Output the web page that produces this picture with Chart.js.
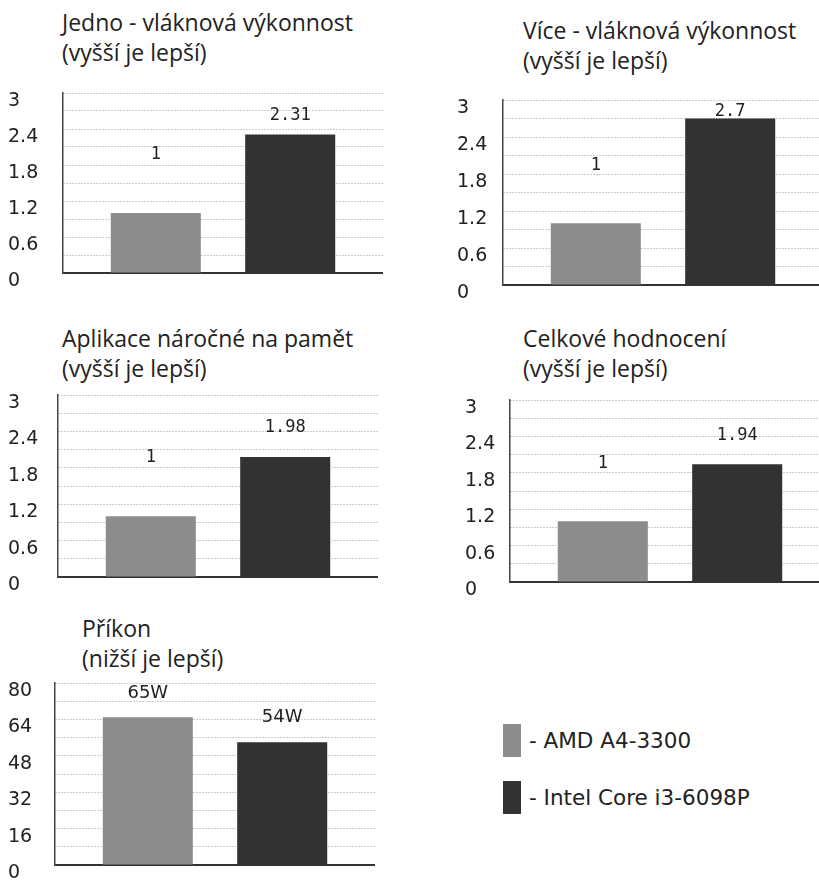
<!DOCTYPE html>
<html>
<head>
<meta charset="utf-8">
<script src="https://cdn.jsdelivr.net/npm/chart.js@4.4.0/dist/chart.umd.min.js"></script>
<style>
  html, body { margin: 0; padding: 0; background: #fff; }
  body { width: 819px; height: 882px; position: relative; overflow: hidden; }
  canvas { position: absolute; }
  .title { position: absolute; font-family: "Open Sans", sans-serif; font-size: 23px; line-height: 30px; color: #222; white-space: nowrap; }
  .legend-item { position: absolute; left: 503px; display: flex; align-items: center; font-family: "DejaVu Sans", sans-serif; font-size: 21.5px; color: #222; }
  .legend-box { width: 18px; height: 33px; margin-right: 8px; }
</style>
</head>
<body>
<script>
// Hodnoty z grafu
const series = ['AMD A4-3300', 'Intel Core i3-6098P'];
const seriesColors = ['#8c8c8c', '#323232'];

const singleThread = [1, 2.31];
const multiThread = [1, 2.7];
const memoryApps = [1, 1.98];
const overall = [1, 1.94];
const power = [65, 54];

const scoreTicks = [0, 0.6, 1.2, 1.8, 2.4, 3];
const powerTicks = [0, 16, 32, 48, 64, 80];

// Nastaveni jednotlivych grafu (pozice, titulky)
const panels = [
  { title: ['Jedno - vláknová výkonnost', '(vyšší je lepší)'], data: singleThread, ticks: scoreTicks, step: 0.3, suffix: '',
    titleAt: [62, 7], labelX: 8, area: [63, 93, 383, 273], lift: [58, 19], valueFont: '17px "DejaVu Sans Mono"' },
  { title: ['Více - vláknová výkonnost', '(vyšší je lepší)'], data: multiThread, ticks: scoreTicks, step: 0.3, suffix: '',
    titleAt: [523, 15], labelX: 457, area: [503, 100, 823, 285], lift: [58, 7], valueFont: '17px "DejaVu Sans Mono"' },
  { title: ['Aplikace náročné na pamět', '(vyšší je lepší)'], data: memoryApps, ticks: scoreTicks, step: 0.3, suffix: '',
    titleAt: [62, 323], labelX: 8, area: [58, 395, 378, 577], lift: [59, 29], valueFont: '17px "DejaVu Sans Mono"' },
  { title: ['Celkové hodnocení', '(vyšší je lepší)'], data: overall, ticks: scoreTicks, step: 0.3, suffix: '',
    titleAt: [523, 323], labelX: 465, area: [510, 400, 830, 582], lift: [58, 29], valueFont: '17px "DejaVu Sans Mono"' },
  { title: ['Příkon', '(nižší je lepší)'], data: power, ticks: powerTicks, step: 8, suffix: 'W',
    titleAt: [82, 613], labelX: 8, area: [55, 683, 375, 865], lift: [24, 25], valueFont: '18px "DejaVu Sans"' }
];

// Popisky hodnot nad sloupci
const valueLabelPlugin = {
  id: 'valueLabels',
  afterDatasetsDraw(chart, args, opts) {
    const ctx = chart.ctx;
    ctx.save();
    ctx.font = opts.font;
    ctx.fillStyle = '#222';
    ctx.textAlign = 'center';
    ctx.textBaseline = 'middle';
    chart.data.datasets.forEach((ds, i) => {
      const bar = chart.getDatasetMeta(i).data[0];
      ctx.fillText(ds.data[0] + opts.suffix, bar.x, bar.y - opts.lift[i]);
    });
    ctx.restore();
  }
};

function createPanel(p) {
  const title = document.createElement('div');
  title.className = 'title';
  title.style.left = p.titleAt[0] + 'px';
  title.style.top = p.titleAt[1] + 'px';
  title.innerHTML = p.title.join('<br>');
  document.body.appendChild(title);

  const [aLeft, aTop, aRight, aBottom] = p.area;
  const padTop = 12, padBottom = 26;
  const top = aTop - padTop;
  const width = aRight - p.labelX;
  const height = aBottom - top + padBottom;
  const axisWidth = aLeft - p.labelX;

  const canvas = document.createElement('canvas');
  canvas.width = width;
  canvas.height = height;
  canvas.style.left = p.labelX + 'px';
  canvas.style.top = top + 'px';
  canvas.style.width = width + 'px';
  canvas.style.height = height + 'px';
  document.body.appendChild(canvas);

  const tickMin = p.ticks[0];
  const tickMax = p.ticks[p.ticks.length - 1];

  new Chart(canvas.getContext('2d'), {
    type: 'bar',
    data: {
      labels: [''],
      datasets: series.map((name, i) => ({
        label: name,
        data: [p.data[i]],
        backgroundColor: seriesColors[i],
        borderWidth: 0,
        categoryPercentage: 0.84,
        barPercentage: 0.67
      }))
    },
    options: {
      responsive: false,
      animation: false,
      devicePixelRatio: 1,
      layout: { padding: { top: padTop, bottom: padBottom, left: 0, right: 0 } },
      plugins: {
        legend: { display: false },
        tooltip: { enabled: false },
        valueLabels: { font: p.valueFont, suffix: p.suffix, lift: p.lift }
      },
      scales: {
        x: {
          grid: { display: false },
          ticks: { display: false },
          border: { display: true, color: '#333', width: 2 },
          afterFit(scale) { scale.height = 0; }
        },
        y: {
          min: tickMin,
          max: tickMax,
          afterFit(scale) { scale.width = axisWidth; },
          ticks: {
            stepSize: p.step,
            autoSkip: false,
            crossAlign: 'far',
            labelOffset: 8,
            padding: 0,
            color: '#222',
            font: { family: 'DejaVu Sans', size: 19 },
            callback(value) {
              const hit = p.ticks.find(t => Math.abs(t - value) < 1e-6);
              return hit === undefined ? '' : String(hit);
            }
          },
          grid: { color: '#9a9a9a', lineWidth: 1, drawTicks: false },
          border: { display: true, color: '#444', width: 1.5, dash: [1, 2] }
        }
      }
    },
    plugins: [valueLabelPlugin]
  });
}

panels.forEach(createPanel);

// Legenda
series.forEach((name, i) => {
  const item = document.createElement('div');
  item.className = 'legend-item';
  item.style.top = (i === 0 ? 724 : 781) + 'px';
  const box = document.createElement('div');
  box.className = 'legend-box';
  box.style.background = seriesColors[i];
  const text = document.createElement('span');
  text.textContent = '- ' + name;
  item.appendChild(box);
  item.appendChild(text);
  document.body.appendChild(item);
});
</script>
</body>
</html>
